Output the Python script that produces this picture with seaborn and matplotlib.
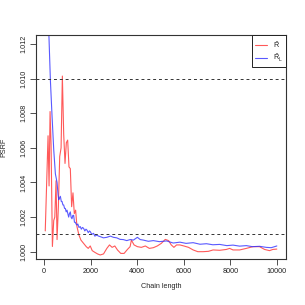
import matplotlib
matplotlib.use("Agg")
import matplotlib.pyplot as plt
import seaborn as sns
import pandas as pd

# PSRF of the plain estimator (red)
r_len = [50, 170, 214, 257, 300, 357, 414, 460, 514, 557, 614, 671, 730, 785, 842, 899, 956, 1013,
         1070, 1127, 1184, 1241, 1298, 1355, 1412, 1498, 1583, 1697, 1812, 1897, 1983, 2068,
         2183, 2297, 2411, 2554, 2696, 2810, 2924, 3038, 3153, 3295, 3438, 3581, 3695, 3752,
         3866, 4009, 4180, 4351, 4522, 4693, 4864, 5036, 5207, 5350, 5464, 5578, 5692, 5835,
         6006, 6206, 6405, 6605, 6833, 7061, 7261, 7546, 7832, 7974, 8117, 8402, 8688, 8973,
         9258, 9472, 9686, 9829, 10000]
r_hat = [1.0012, 1.0067, 1.0038, 1.0081, 1.0062, 1.0003, 1.0018, 1.0020, 1.0041, 1.0007, 1.0026,
         1.0055, 1.0060, 1.01015, 1.0068, 1.0051, 1.0063, 1.00645, 1.0049, 1.0048, 1.0026,
         1.0034, 1.0022, 1.0024, 1.00145, 1.00096, 1.00067, 1.00048, 1.00029, 1.00019, 1.00033,
         1.00006, 0.99996, 0.99987, 0.99981, 0.99987, 1.00019, 1.00039, 1.00025, 1.00033,
         1.0001, 0.9999, 0.9999, 1.00013, 1.00029, 1.00067, 1.00039, 1.00029, 1.00025, 1.00033,
         1.00019, 1.00023, 1.00033, 1.00048, 1.00071, 1.00064, 1.00039, 1.00025, 1.00039,
         1.00039, 1.00033, 1.00025, 1.0001, 1.0, 1.0, 1.00002, 1.0001, 1.00008, 1.00013,
         1.00019, 1.0001, 1.0001, 1.00019, 1.00029, 1.00029, 1.00013, 1.00006, 1.00013, 1.00015]

# PSRF of the lugsail estimator (blue)
l_len = [50, 120, 200, 271, 343, 414, 485, 557, 600, 628, 660, 699, 740, 771, 810, 842, 880, 913,
         950, 985, 1020, 1056, 1090, 1127, 1160, 1198, 1235, 1270, 1305, 1341, 1375, 1412, 1450,
         1500, 1555, 1600, 1650, 1697, 1750, 1800, 1840, 1900, 1950, 1983, 2050, 2126, 2180,
         2268, 2340, 2411, 2550, 2696, 2850, 2981, 3120, 3267, 3400, 3552, 3700, 3837, 4009,
         4130, 4265, 4480, 4693, 4950, 5264, 5550, 5835, 6100, 6405, 6700, 6976, 7250, 7546,
         7850, 8117, 8400, 8688, 8950, 9258, 9543, 9757, 10000]
r_hat_l = [1.0210, 1.0165, 1.0128, 1.0099, 1.0078, 1.0059, 1.0045, 1.0040, 1.0033, 1.0030, 1.0031,
           1.0032, 1.0029, 1.0029, 1.0027, 1.0027, 1.0025, 1.0025, 1.0023, 1.0024, 1.0022,
           1.0020, 1.0022, 1.0023, 1.0020, 1.0019, 1.0021, 1.0021, 1.0017, 1.0017, 1.0016,
           1.00154, 1.0016, 1.0014, 1.00145, 1.0013, 1.0014, 1.00135, 1.0012, 1.0013, 1.00125,
           1.0011, 1.0012, 1.00116, 1.0010, 1.00106, 1.0009, 1.00096, 1.0009, 1.00087, 1.0008,
           1.00083, 1.0009, 1.00083, 1.0008, 1.00071, 1.0007, 1.00064, 1.0007, 1.00067, 1.00083,
           1.0007, 1.00067, 1.0006, 1.00064, 1.00058, 1.00062, 1.0005, 1.00055, 1.00048, 1.00052,
           1.00043, 1.00046, 1.0004, 1.00042, 1.00035, 1.00038, 1.00032, 1.00035, 1.00029,
           1.00031, 1.00025, 1.00023, 1.00033]

x_ticks = [0, 2000, 4000, 6000, 8000, 10000]
y_ticks = [1.000, 1.002, 1.004, 1.006, 1.008, 1.010, 1.012]
ref_lines = [1.01, 1.001]

df_r = pd.DataFrame({"len": r_len, "psrf": r_hat})
df_l = pd.DataFrame({"len": l_len, "psrf": r_hat_l})

sns.set_style("ticks")
plt.rcParams["font.family"] = ["Liberation Sans", "DejaVu Sans"]
plt.rcParams["mathtext.fontset"] = "custom"
plt.rcParams["mathtext.rm"] = "Liberation Sans"
plt.rcParams["mathtext.it"] = "Liberation Sans"
fs = 5.2

fig = plt.figure(figsize=(3.05, 3.05), dpi=100)
ax = fig.add_axes([0.118, 0.151, 0.82, 0.734])

sns.lineplot(data=df_r, x="len", y="psrf", ax=ax, color="#ff3030", alpha=0.8, lw=0.8,
             label=r"$\hat{\mathrm{R}}$")
sns.lineplot(data=df_l, x="len", y="psrf", ax=ax, color="#3030ff", alpha=0.8, lw=0.8,
             label=r"$\hat{\mathrm{R}}_\mathrm{L}$")
for h in ref_lines:
    ax.axhline(h, color="#333333", lw=0.7, ls=(0, (3, 3)))

ax.set_xlim(-348, 10398)
ax.set_ylim(0.99958, 1.01252)
ax.set_xticks(x_ticks)
ax.set_xticklabels([str(t) for t in x_ticks], fontsize=fs, color="#222222")
ax.set_yticks(y_ticks)
ax.set_yticklabels([f"{t:.3f}" for t in y_ticks], fontsize=fs, rotation=90, va="center",
                   color="#222222")
ax.tick_params(length=4, width=0.6, color="#333333", pad=2.5)
for s in ax.spines.values():
    s.set_linewidth(0.8)
    s.set_color("#333333")
ax.set_xlabel("Chain length", fontsize=fs, labelpad=6)
ax.set_ylabel("PSRF", fontsize=fs, labelpad=9)

leg = ax.legend(loc="upper right", fontsize=fs, frameon=True, fancybox=False,
                borderaxespad=0, handlelength=1.6, handletextpad=0.8, borderpad=0.5,
                labelspacing=0.3)
leg.get_frame().set_edgecolor("#222222")
leg.get_frame().set_linewidth(0.7)
leg.get_frame().set_alpha(1)

fig.savefig("out.png", dpi=100)
